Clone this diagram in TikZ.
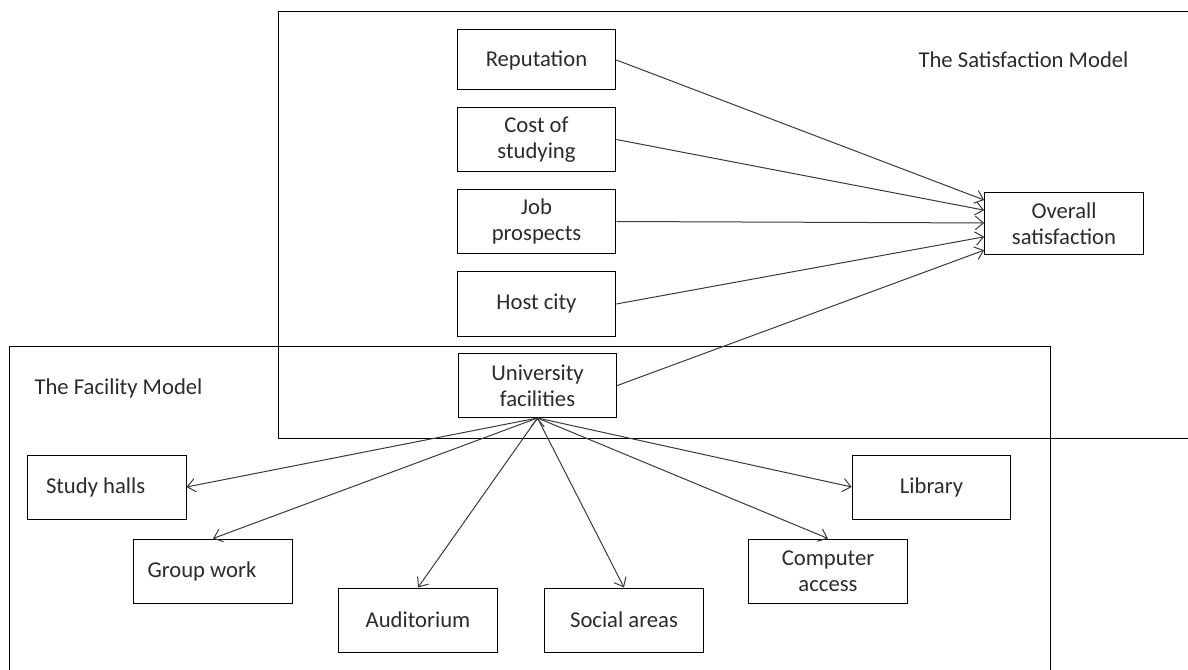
\documentclass[tikz,border=0pt]{standalone}
\usepackage{fontspec}
\setmainfont{Carlito}
\usetikzlibrary{arrows.meta}
\definecolor{inkgray}{HTML}{2B2B2B}
\definecolor{linegray}{HTML}{3A3A3A}

\begin{document}
\begin{tikzpicture}[x=0.75pt, y=-0.75pt, line width=0.75pt,
                    font=\fontsize{17}{19.5}\selectfont, text=inkgray,
                    main node/.style={rectangle,draw=black,align=center,
                      minimum width=119pt,minimum height=48pt,inner sep=2pt},
                    link/.style={draw=linegray,-{Straight Barb[length=6pt,width=10pt]}}]

  \useasboundingbox (0,0) rectangle (1188,670);
  \clip (0,0) rectangle (1188,670);

  % the two model frames
  \draw (278,12) rectangle (1200,438);
  \draw (9,346) rectangle (1050,690);
  \node (sm) at (1023.5,60) {The Satisfaction Model};
  \node (fm) at (118.5,388) {The Facility Model};

  \node[main node, minimum height=45pt] (1) at (536.5,60) {Reputation};
  \node[main node] (2) at (536.5,139.5) {Cost of\\studying};
  \node[main node] (3) at (536.5,221.5) {Job\\prospects};
  \node[main node] (4) at (536.5,304) {Host city};
  \node[main node] (5) at (537.5,385.5) {University\\facilities};
  \node[main node, minimum height=47pt] (6) at (1064,223.5) {Overall\\satisfaction};

  \node[main node, align=flush left, inner xsep=14.25pt, text width=90.75pt] (7) at (106.5,487) {Study halls};
  \node[main node, align=flush left, inner xsep=10.5pt, text width=98.25pt] (8) at (213,571) {Group work};
  \node[main node] (9) at (418,620) {Auditorium};
  \node[main node] (10) at (624,620) {Social areas};
  \node[main node] (11) at (828,571) {Computer\\access};
  \node[main node] (12) at (931.5,487) {Library};

  \path[link]
  (1.east) edge ([yshift=17.6pt]6.west)
  (2.east) edge ([yshift=10pt]6.west)
  (3.east) edge ([yshift=0.4pt]6.west)
  (4.east) edge ([yshift=-10pt]6.west)
  (5.east) edge ([yshift=-20pt]6.west)
  (5.south) edge (7.east)
  (5.south) edge (8.north)
  (5.south) edge (9.north)
  (5.south) edge (10.north)
  (5.south) edge (11.north)
  (5.south) edge (12.west);

\end{tikzpicture}
\end{document}
